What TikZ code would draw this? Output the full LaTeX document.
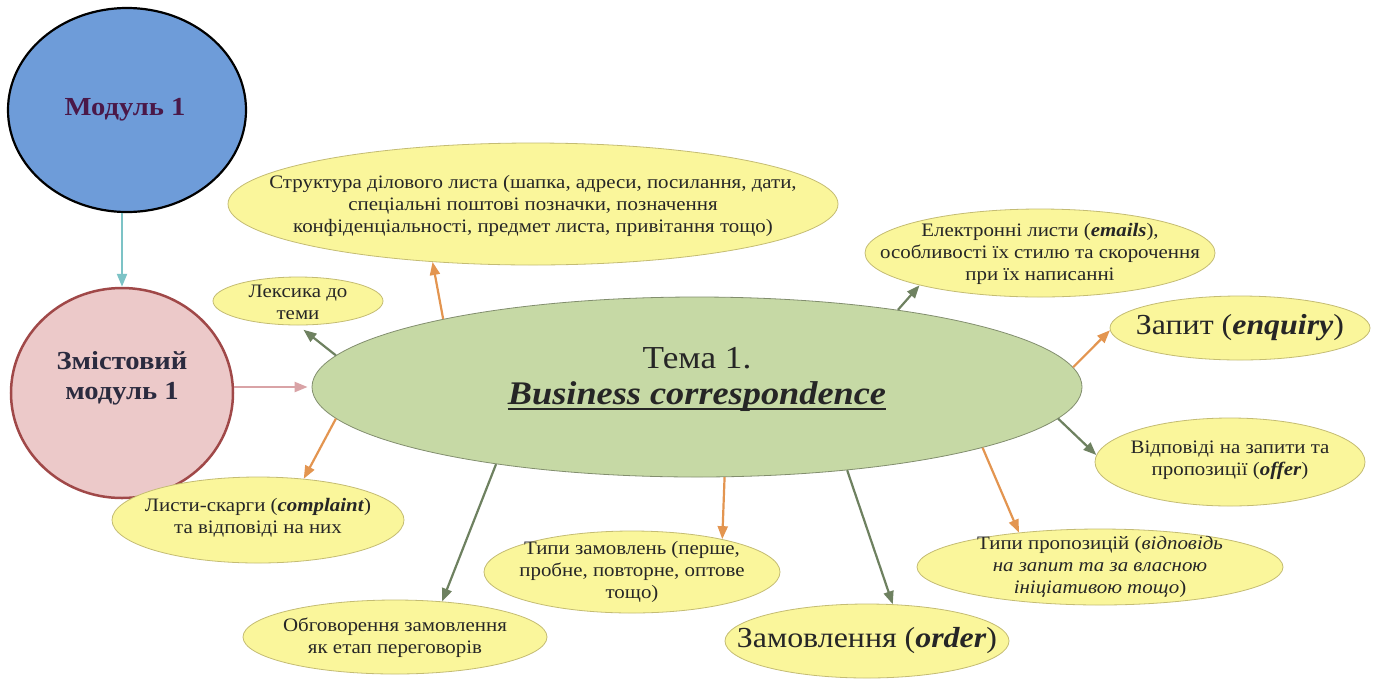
\documentclass[tikz,border=0pt]{standalone}
\usepackage{fontspec}
\setmainfont{Liberation Serif}[FakeStretch=1.1]
\usetikzlibrary{shapes.geometric,arrows.meta}
\definecolor{bluef}{RGB}{110,156,217}
\definecolor{pinkf}{RGB}{236,201,201}
\definecolor{pinkb}{RGB}{160,72,72}
\definecolor{centf}{RGB}{198,217,165}
\definecolor{centb}{RGB}{130,142,110}
\definecolor{yelf}{RGB}{250,246,155}
\definecolor{yelb}{RGB}{196,188,115}
\definecolor{modtxt}{RGB}{74,24,72}
\definecolor{zmtxt}{RGB}{43,43,63}
\definecolor{orng}{RGB}{227,149,80}
\definecolor{grn}{RGB}{110,129,96}
\definecolor{teal}{RGB}{124,195,198}
\definecolor{pinka}{RGB}{217,163,166}
\newcommand\myul[1]{\setbox0\hbox{#1}\rlap{\rule[-6pt]{\wd0}{2.5pt}}\box0}
\begin{document}
\begin{tikzpicture}[x=1pt,y=-1pt,
  bub/.style={ellipse, draw=yelb, fill=yelf, line width=0.8pt, inner sep=0pt},
  txt/.style={align=center, inner sep=0pt, font=\fontsize{19}{22}\selectfont, text=black!85},
  bigtxt/.style={align=center, inner sep=0pt, font=\fontsize{29}{32}\selectfont, text=black!85},
  arr/.style={line width=2.2pt, -{Triangle[length=13pt,width=10pt]}},
  oarr/.style={arr, draw=orng, fill=orng},
  garr/.style={arr, draw=grn, fill=grn}]
\useasboundingbox (0,0) rectangle (1388,681);
\fill[white] (0,0) rectangle (1388,681);

% modules
\node[ellipse, draw=black, line width=2.2pt, fill=bluef, minimum width=238pt, minimum height=204pt, inner sep=0pt] (mod1) at (127,110) {};
\node[inner sep=0pt, font=\fontsize{26}{30}\selectfont\bfseries, text=modtxt] (mod1t) at (125,110) {Модуль 1};
\node[ellipse, draw=pinkb, line width=2.5pt, fill=pinkf, minimum width=222pt, minimum height=210pt, inner sep=0pt] (zm1) at (122,393) {};
\node[align=center, inner sep=0pt, font=\fontsize{26}{30}\selectfont\bfseries, text=zmtxt] (zm1t) at (122,378) {Змістовий\\модуль 1};

% central
\node[ellipse, draw=centb, line width=0.8pt, fill=centf, minimum width=770pt, minimum height=180pt, inner sep=0pt] (c) at (697,387) {};
\node[align=center, inner sep=0pt, text=black!85, font=\fontsize{32}{36}\selectfont] (ct) at (697,379) {Тема 1.\\{\fontsize{33}{36}\selectfont\myul{\textbf{\textit{Business correspondence}}}}};

% satellites
\node[bub, minimum width=610pt, minimum height=122pt] (str) at (533,204) {};
\node[txt] (strt) at (533,206) {Структура ділового листа (шапка, адреси, посилання, дати,\\спеціальні поштові позначки, позначення\\конфіденціальності, предмет листа, привітання тощо)};

\node[bub, minimum width=170pt, minimum height=48pt] (lex) at (298,301) {};
\node[txt] (lext) at (298,302) {Лексика до\\теми};

\node[bub, minimum width=350pt, minimum height=88pt] (el) at (1040,253) {};
\node[txt] (elt) at (1040,254) {Електронні листи (\textbf{\textit{emails}}),\\особливості їх стилю та скорочення\\при їх написанні};

\node[bub, minimum width=260pt, minimum height=64pt] (zap) at (1240,328) {};
\node[bigtxt] (zapt) at (1240,328) {Запит (\textbf{\textit{enquiry}})};

\node[bub, minimum width=270pt, minimum height=88pt] (vid) at (1230,462) {};
\node[txt] (vidt) at (1230,460) {Відповіді на запити та\\пропозиції (\textbf{\textit{offer}})};

\node[bub, minimum width=292pt, minimum height=86pt] (skar) at (258,520) {};
\node[txt] (skart) at (258,518) {Листи-скарги (\textbf{\textit{complaint}})\\та відповіді на них};

\node[bub, minimum width=304pt, minimum height=74pt] (obg) at (395,637) {};
\node[txt] (obgt) at (395,638) {Обговорення замовлення\\як етап переговорів};

\node[bub, minimum width=296pt, minimum height=82pt] (tzam) at (632,572) {};
\node[txt] (tzamt) at (632,572) {Типи замовлень (перше,\\пробне, повторне, оптове\\тощо)};

\node[bub, minimum width=284pt, minimum height=74pt] (zam) at (867,641) {};
\node[bigtxt] (zamt) at (867,641) {Замовлення (\textbf{\textit{order}})};

\node[bub, minimum width=366pt, minimum height=76pt] (tpr) at (1100,567) {};
\node[txt] (tprt) at (1100,567) {Типи пропозицій (\textit{відповідь}\\\textit{на запит та за власною}\\\textit{ініціативою тощо})};

% connectors
\draw[arr, draw=teal, fill=teal] (zm1.north |- mod1.south) -- (zm1.north);
\draw[arr, draw=pinka, fill=pinka, shorten >=4pt] (zm1.east |- c.west) -- (c.west);

\draw[oarr] (c.165.1) -- (str.-150.7);
\draw[garr, shorten >=7pt] (c.175.8) -- (lex.-90);
\draw[garr] (c.21) -- (el.195.6);
\draw[oarr] (c.3) -- (zap.181.8);
\draw[garr] (c.-5.2) -- (vid.177);
\draw[oarr] (c.-12.3) -- (tpr.157);
\draw[garr] (c.-29.4) -- (zam.55.5);
\draw[oarr] (c.-73.2) -- (tzam.20.8);
\draw[garr] (c.-159.8) -- (obg.37.4);
\draw[oarr] (c.185.5) -- (skar.42.3);
\end{tikzpicture}
\end{document}
